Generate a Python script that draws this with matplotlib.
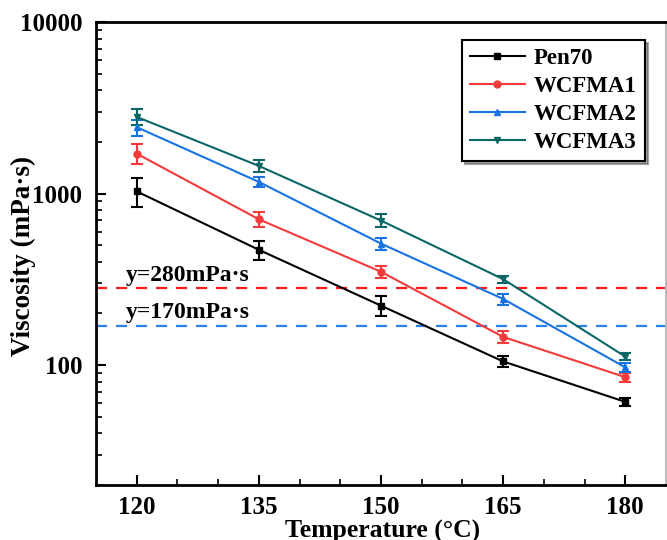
import matplotlib
matplotlib.use("Agg")
import matplotlib.pyplot as plt
from matplotlib.ticker import FixedLocator, LogLocator, NullFormatter, FixedFormatter
from matplotlib.lines import Line2D

plt.rcParams['font.family'] = ['Liberation Serif', 'DejaVu Serif']
plt.rcParams['font.weight'] = 'bold'

temps = [120, 135, 150, 165, 180]
series_names = ["Pen70", "WCFMA1", "WCFMA2", "WCFMA3"]
pen70 = [1030, 470, 222, 105, 61]
pen70_err = [200, 60, 30, 8, 3]
wcfma1 = [1710, 708, 350, 146, 85]
wcfma1_err = [230, 70, 27, 11, 5]
wcfma2 = [2440, 1170, 511, 243, 97]
wcfma2_err = [260, 80, 40, 18, 6]
wcfma3 = [2800, 1450, 696, 317, 112]
wcfma3_err = [300, 120, 60, 15, 5]
ref_levels = [280, 170]
ref_labels = ["y=280mPa·s", "y=170mPa·s"]

colors = ["#000000", "#F43A3A", "#1873E0", "#0B6666"]
markers = ["s", "o", "^", "v"]
ref_colors = ["#FF1A1A", "#2A82E6"]

fig = plt.figure(figsize=(6.67, 5.4), dpi=100)
ax = fig.add_axes([0.144, 0.102, 0.8545, 0.857])

handles = []
for name, y, e, c, m in zip(series_names, [pen70, wcfma1, wcfma2, wcfma3],
                            [pen70_err, wcfma1_err, wcfma2_err, wcfma3_err], colors, markers):
    ax.errorbar(temps, y, yerr=e, color=c, marker=m, markersize=5, lw=1.5,
                capsize=4, capthick=1.5, elinewidth=1.5)
    handles.append(Line2D([], [], color=c, marker=m, markersize=5, lw=1.5, label=name))

for lvl, lab, c in zip(ref_levels, ref_labels, ref_colors):
    ax.axhline(lvl, color=c, ls=(0, (5, 4)), lw=1.6)
    ax.text(118.7, lvl * 1.03, lab, fontsize=17, fontweight='bold', va='bottom', ha='left')

ax.set_yscale('log')
ax.set_xlim(115, 185)
ax.set_ylim(20, 10000)
ax.set_xticks(temps)
ax.set_xticks([125, 130, 140, 145, 155, 160, 170, 175], minor=True)
ax.yaxis.set_major_locator(FixedLocator([100, 1000, 10000]))
ax.yaxis.set_major_formatter(FixedFormatter(["100", "1000", "10000"]))
ax.yaxis.set_minor_locator(LogLocator(base=10, subs=range(2, 10)))
ax.yaxis.set_minor_formatter(NullFormatter())
ax.tick_params(which='both', direction='in', top=False, right=False)
ax.tick_params(which='major', length=7, width=1.5, labelsize=18)
ax.tick_params(axis='x', which='major', pad=8)
ax.tick_params(axis='y', which='major', pad=10)
ax.tick_params(which='minor', length=4, width=1.2)
for lab in ax.get_xticklabels() + ax.get_yticklabels():
    lab.set_fontweight('bold')

for s in ['left', 'bottom', 'top']:
    ax.spines[s].set_linewidth(2)
ax.spines['right'].set_color('#BBBBBB')
ax.spines['right'].set_linewidth(1.5)

fig.text(383 / 667, 1 - 520 / 540, "Temperature (°C)", fontsize=18.5, fontweight='bold',
         ha='center', va='top')
fig.text(23 / 667, 1 - 256 / 540, "Viscosity (mPa·s)", fontsize=19.5, fontweight='bold',
         ha='center', va='center', rotation=90)

leg = ax.legend(handles=handles, loc='upper right', bbox_to_anchor=(0.963, 0.961),
                borderaxespad=0,
                frameon=True, fancybox=False, shadow=True, edgecolor='black',
                handlelength=2.4, borderpad=0.35, labelspacing=0.3, handletextpad=0.4,
                prop={'weight': 'bold', 'size': 16.5})
leg.get_frame().set_linewidth(1.5)

fig.savefig("out.png", dpi=100)
